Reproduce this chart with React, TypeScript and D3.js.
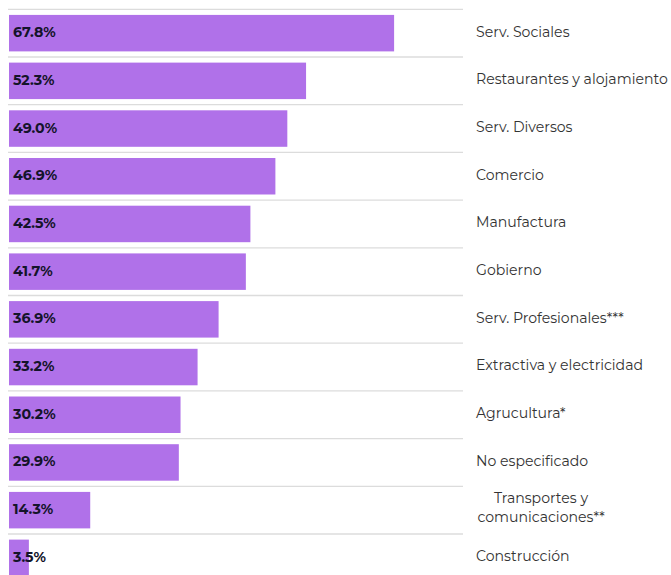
import React from "react";
import * as d3 from "d3";

const categories = [
  "Serv. Sociales",
  "Restaurantes y alojamiento",
  "Serv. Diversos",
  "Comercio",
  "Manufactura",
  "Gobierno",
  "Serv. Profesionales***",
  "Extractiva y electricidad",
  "Agrucultura*",
  "No especificado",
  "Transportes y\ncomunicaciones**",
  "Construcción",
];
const values = [67.8, 52.3, 49.0, 46.9, 42.5, 41.7, 36.9, 33.2, 30.2, 29.9, 14.3, 3.5];

const W = 671;
const H = 575;
const BAR = "#b071e9";
const FONT = "Montserrat, 'Open Sans', 'DejaVu Sans', sans-serif";

export default function App() {
  const x = d3.scaleLinear().domain([0, 80]).range([9, 463.4]);
  const top = 9.3;
  const step = 47.7;
  const y = d3
    .scaleBand<string>()
    .domain(categories)
    .range([top, top + step * categories.length])
    .paddingInner(0.235)
    .paddingOuter(0.1175);
  const po = 0.1175 * y.step();
  const fmt = (v: number) => v.toFixed(1) + "%";

  return (
    <svg
      width={W}
      height={H}
      style={{ position: "absolute", left: 0, top: 0, background: "#fff" }}
      fontFamily={FONT}
    >
      {categories.map((c, i) => (
        <line
          key={"g" + i}
          x1={8}
          x2={463}
          y1={(y(c) as number) - po}
          y2={(y(c) as number) - po}
          stroke="#dcdcdc"
          strokeWidth={1.3}
        />
      ))}
      {categories.map((c, i) => {
        const by = y(c) as number;
        const cy = by + y.bandwidth() / 2;
        const lines = c.split("\n");
        return (
          <g key={c}>
            <rect x={x(0)} y={by} width={x(values[i]) - x(0)} height={y.bandwidth()} fill={BAR} />
            <text
              x={13}
              y={cy - 1}
              dy="0.35em"
              fontSize={14.2}
              fontWeight={700}
              fill="#14142a"
            >
              {fmt(values[i])}
            </text>
            {lines.length === 1 ? (
              <text x={476} y={cy - 1.5} dy="0.35em" fontSize={14.1} fill="#333">
                {c}
              </text>
            ) : (
              <text x={541} y={cy} textAnchor="middle" fontSize={14.1} fill="#333">
                {lines.map((l, k) => (
                  <tspan key={k} x={541} y={cy - 12 + k * 19} dy="0.35em">
                    {l}
                  </tspan>
                ))}
              </text>
            )}
          </g>
        );
      })}
    </svg>
  );
}
